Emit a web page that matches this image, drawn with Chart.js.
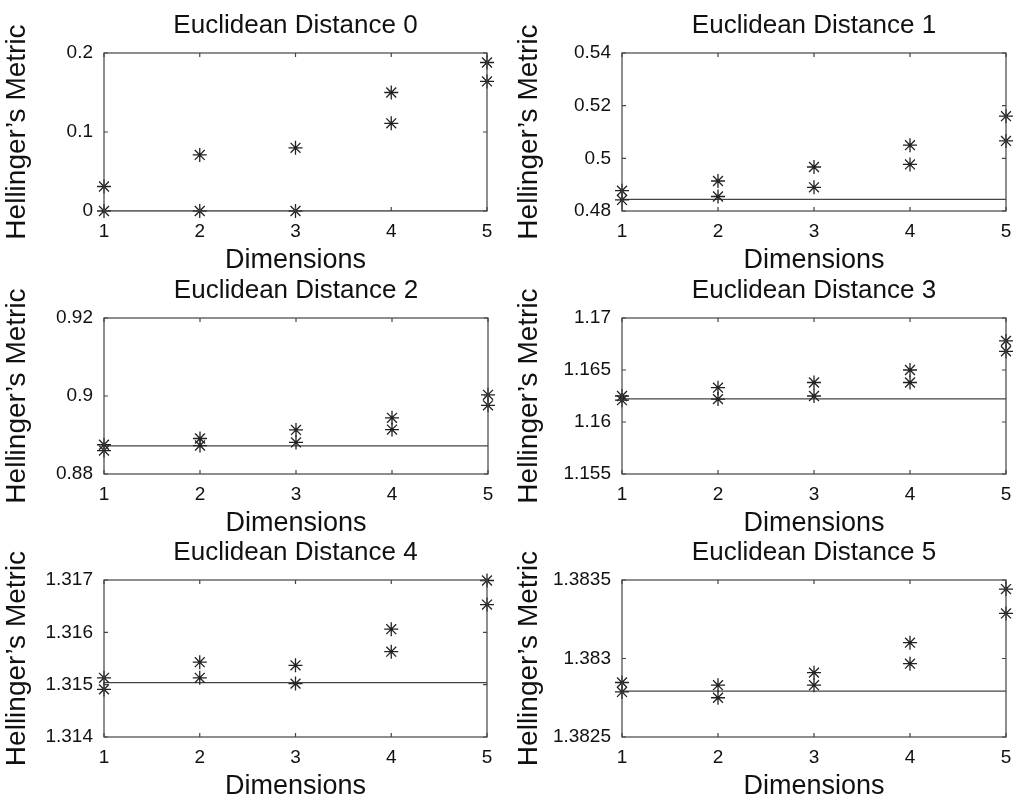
<!DOCTYPE html>
<html>
<head>
<meta charset="utf-8">
<script src="https://cdn.jsdelivr.net/npm/chart.js@4.4.1/dist/chart.umd.min.js"></script>
<style>
  body { margin: 0; background: #fff; }
  #wrap { position: relative; width: 1024px; height: 811px; }
  canvas { position: absolute; }
</style>
</head>
<body>
<div id="wrap"></div>
<script>
// Data
const dimensions = [1, 2, 3, 4, 5];
const upper0 = [0.031, 0.071, 0.080, 0.150, 0.188];
const lower0 = [0.000, 0.000, 0.000, 0.111, 0.164];
const upper1 = [0.4877, 0.4914, 0.4967, 0.5050, 0.5160];
const lower1 = [0.4842, 0.4855, 0.4890, 0.4977, 0.5066];
const upper2 = [0.8875, 0.8891, 0.8913, 0.8944, 0.9003];
const lower2 = [0.8860, 0.8873, 0.8881, 0.8914, 0.8976];
const upper3 = [1.1625, 1.1633, 1.1638, 1.1650, 1.1678];
const lower3 = [1.1621, 1.1622, 1.1625, 1.1638, 1.1668];
const upper4 = [1.31513, 1.31543, 1.31537, 1.31606, 1.31699];
const lower4 = [1.31491, 1.31513, 1.31502, 1.31563, 1.31653];
const upper5 = [1.382847, 1.382830, 1.382910, 1.383101, 1.383442];
const lower5 = [1.382787, 1.382750, 1.382830, 1.382967, 1.383287];
const baselines = [0, 0.4844, 0.8872, 1.16223, 1.31504, 1.382792];
const titles = ['Euclidean Distance 0', 'Euclidean Distance 1', 'Euclidean Distance 2',
                'Euclidean Distance 3', 'Euclidean Distance 4', 'Euclidean Distance 5'];
const yTicks = [
    ['0', '0.1', '0.2'],
    ['0.48', '0.5', '0.52', '0.54'],
    ['0.88', '0.9', '0.92'],
    ['1.155', '1.16', '1.165', '1.17'],
    ['1.314', '1.315', '1.316', '1.317'],
    ['1.3825', '1.383', '1.3835']
];
const uppers = [upper0, upper1, upper2, upper3, upper4, upper5];
const lowers = [lower0, lower1, lower2, lower3, lower4, lower5];

// Plot-area boxes [panelLeft, left, top, right, bottom]
const boxes = [
    [0, 104, 53, 487, 211], [512, 622, 53, 1006, 211],
    [0, 104, 318, 488, 474], [512, 622, 318, 1006, 474],
    [0, 104, 580, 487, 737], [512, 622, 580, 1006, 737]
];

const FONT = 'Liberation Sans, Arial, sans-serif';
const INK = '#222';

// Frame with inward ticks and a title centred over the plot area, MATLAB style
const framePlugin = {
    id: 'frame',
    afterDraw(chart, args, opts) {
        const { ctx, chartArea: a, scales } = chart;
        ctx.save();
        ctx.strokeStyle = '#444';
        ctx.lineWidth = 1.2;
        ctx.strokeRect(a.left, a.top, a.right - a.left, a.bottom - a.top);
        scales.x.ticks.forEach(t => {
            const x = scales.x.getPixelForValue(t.value);
            ctx.beginPath();
            ctx.moveTo(x, a.bottom); ctx.lineTo(x, a.bottom - 4);
            ctx.moveTo(x, a.top); ctx.lineTo(x, a.top + 4);
            ctx.stroke();
        });
        scales.y.ticks.forEach(t => {
            const y = scales.y.getPixelForValue(t.value);
            ctx.beginPath();
            ctx.moveTo(a.left, y); ctx.lineTo(a.left + 4, y);
            ctx.moveTo(a.right, y); ctx.lineTo(a.right - 4, y);
            ctx.stroke();
        });
        ctx.fillStyle = '#111';
        ctx.font = '26px ' + FONT;
        ctx.textAlign = 'center';
        ctx.textBaseline = 'middle';
        ctx.fillText(opts.text, (a.left + a.right) / 2, a.top - 27);
        ctx.restore();
    }
};

const wrap = document.getElementById('wrap');

boxes.forEach((b, i) => {
    const [panelLeft, left, top, right, bottom] = b;
    const canvasTop = top - 53;
    const width = 512;
    const height = (bottom - top) + 53 + 66;
    const canvas = document.createElement('canvas');
    canvas.width = width;
    canvas.height = height;
    canvas.style.left = panelLeft + 'px';
    canvas.style.top = canvasTop + 'px';
    canvas.style.width = width + 'px';
    canvas.style.height = height + 'px';
    wrap.appendChild(canvas);

    const tickVals = yTicks[i].map(Number);
    const pts = arr => arr.map((v, k) => ({ x: dimensions[k], y: v }));
    const starSet = arr => ({
        data: pts(arr), showLine: false, pointStyle: 'star', clip: false,
        pointRadius: 7, borderColor: INK, borderWidth: 1.3, backgroundColor: INK
    });

    new Chart(canvas, {
        type: 'scatter',
        data: {
            datasets: [
                starSet(uppers[i]),
                starSet(lowers[i]),
                {
                    data: [{ x: 1, y: baselines[i] }, { x: 5, y: baselines[i] }],
                    showLine: true, pointRadius: 0, borderColor: '#444', borderWidth: 1.2
                }
            ]
        },
        options: {
            responsive: false,
            animation: false,
            events: [],
            layout: { padding: { top: 53, right: panelLeft + width - right, left: 0, bottom: 0 } },
            plugins: {
                legend: { display: false },
                tooltip: { enabled: false },
                title: { display: false },
                frame: { text: titles[i] }
            },
            scales: {
                x: {
                    type: 'linear', min: 1, max: 5,
                    grid: { display: false },
                    border: { display: false },
                    ticks: { stepSize: 1, color: '#111', padding: 1, font: { family: FONT, size: 19 } },
                    title: { display: true, text: 'Dimensions', color: '#111', padding: 0,
                             font: { family: FONT, size: 27 } },
                    afterFit(s) { s.height = height - 53 - (bottom - top); }
                },
                y: {
                    min: tickVals[0], max: tickVals[tickVals.length - 1],
                    grid: { display: false },
                    border: { display: false },
                    afterBuildTicks(s) { s.ticks = tickVals.map(v => ({ value: v })); },
                    ticks: {
                        color: '#111', padding: 3, font: { family: FONT, size: 19 },
                        callback: (v) => {
                            const k = tickVals.findIndex(t => Math.abs(t - v) < 1e-9);
                            return k >= 0 ? yTicks[i][k] : '';
                        }
                    },
                    title: { display: true, text: 'Hellinger\u2019s Metric', color: '#111', padding: 0,
                             font: { family: FONT, size: 28 } },
                    afterFit(s) { s.width = left - panelLeft; }
                }
            }
        },
        plugins: [framePlugin]
    });
});
</script>
</body>
</html>
